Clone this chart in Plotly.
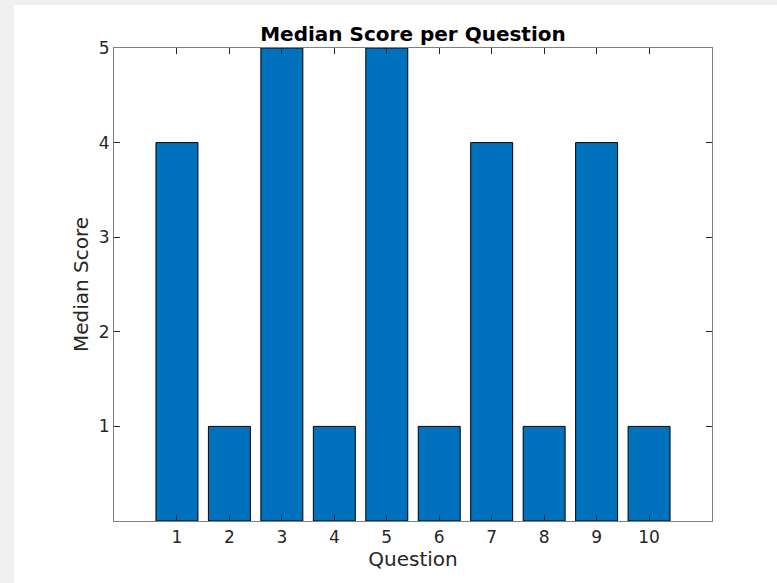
import plotly.graph_objects as go

questions = [1, 2, 3, 4, 5, 6, 7, 8, 9, 10]
median_scores = [4, 1, 5, 1, 5, 1, 4, 1, 4, 1]
y_ticks = [1, 2, 3, 4, 5]

W, H = 777, 583
L, R, T, B = 114, 65, 48, 62

fig = go.Figure()
fig.add_trace(go.Bar(
    x=questions, y=median_scores, width=0.8,
    marker=dict(color="#0072BD", line=dict(color="#000000", width=1)),
))

axis_common = dict(
    showline=True, linecolor="#808080", linewidth=1, mirror="ticks",
    ticks="inside", ticklen=6, tickcolor="#262626", tickwidth=1,
    showgrid=False, zeroline=False,
    tickfont=dict(family="DejaVu Sans", size=17, color="#262626"),
)

fig.update_layout(
    width=W, height=H,
    margin=dict(l=L, r=R, t=T, b=B),
    paper_bgcolor="#ffffff", plot_bgcolor="#ffffff",
    showlegend=False,
    title=dict(text="<b>Median Score per Question</b>", x=0.5, xref="paper",
               xanchor="center", y=1 - 41 / H, yref="container", yanchor="bottom",
               font=dict(family="DejaVu Sans", size=20, color="#000000")),
    xaxis=dict(range=[-0.2, 11.2], tickvals=questions, ticklabelstandoff=1,
               title=dict(text="Question", standoff=0,
                          font=dict(family="DejaVu Sans", size=20, color="#262626")),
               **axis_common),
    yaxis=dict(range=[0, 5], tickvals=y_ticks,
               title=dict(text="Median Score", standoff=4,
                          font=dict(family="DejaVu Sans", size=20, color="#262626")),
               **axis_common),
)

pw = W - L - R
ph = H - T - B
# light gray window frame bands (top and left)
fig.add_shape(type="rect", xref="paper", yref="paper", layer="below",
              x0=-(L + 5) / pw, x1=(W - L + 5) / pw,
              y0=(H - 5 - B) / ph, y1=(H - B + 5) / ph,
              fillcolor="#f0f0f0", line=dict(width=0))
fig.add_shape(type="rect", xref="paper", yref="paper", layer="below",
              x0=-(L + 5) / pw, x1=(14 - L) / pw,
              y0=-(B + 5) / ph, y1=(H - B + 5) / ph,
              fillcolor="#f0f0f0", line=dict(width=0))

fig.write_html(
    "out.html",
    config={"displayModeBar": False},
    post_script="document.body.style.margin='0';document.body.style.overflow='hidden';document.body.style.background='#ffffff';",
)
